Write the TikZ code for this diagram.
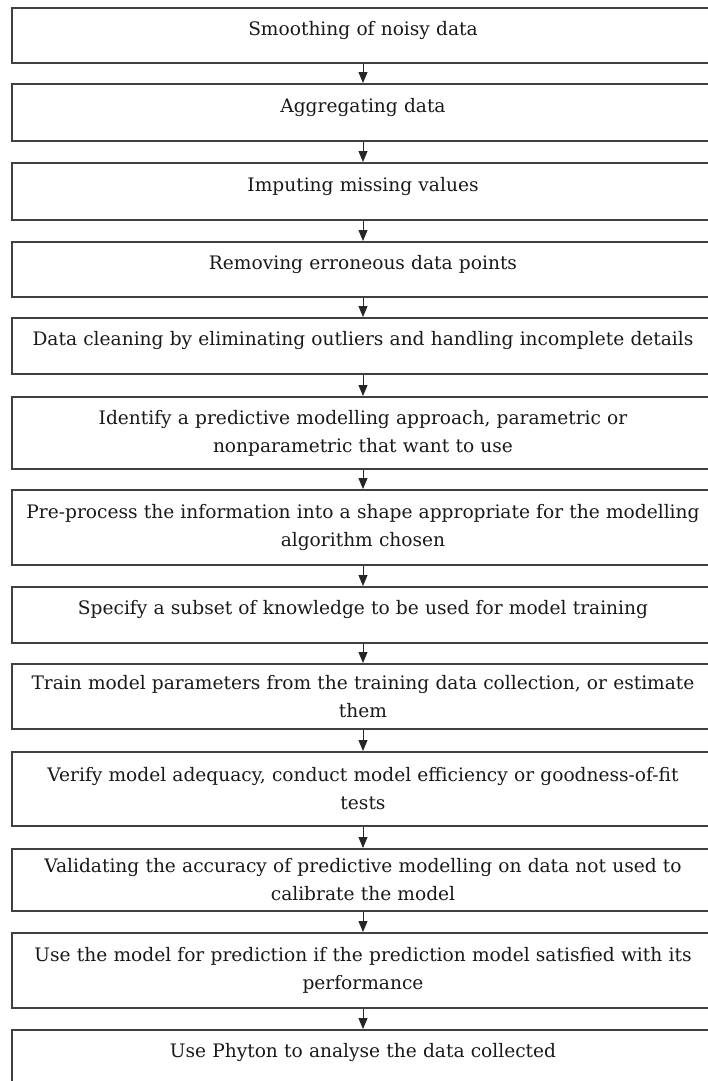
\documentclass[tikz,border=0pt]{standalone}
\usepackage{fontspec}
\setmainfont{DejaVu Serif}
\usetikzlibrary{arrows.meta}

\tikzset{
	stepbox/.style={draw=black!75, line width=1.8pt, anchor=north, minimum width=702pt,
		text width=695pt, align=center, inner sep=0pt, text=black!90, font=\fontsize{18.6}{28}\selectfont},
	oneline/.style={stepbox, text depth=14pt},
}

\begin{document}
\begin{tikzpicture}[x=1pt, y=-1pt, line width=0.9pt, draw=black!85, -{Triangle[width=9pt,length=11pt]}]
	\useasboundingbox (0,0) rectangle (708,1081);
	\node[oneline, minimum height=55pt] (smooth) at (363,7) {Smoothing of noisy data};
	\node[oneline, minimum height=57pt] (aggregate) at (363,83) {Aggregating data};
	\node[oneline, minimum height=57pt] (impute) at (363,162) {Imputing missing values};
	\node[oneline, minimum height=55pt] (remove) at (363,241) {Removing erroneous data points};
	\node[oneline, minimum height=56pt] (clean) at (363,317) {Data cleaning by eliminating outliers and handling incomplete details};
	\node[stepbox, minimum height=72pt] (identify) at (363,396) {Identify a predictive modelling approach, parametric or\\ nonparametric that want to use};
	\node[stepbox, minimum height=75pt] (preproc) at (363,489) {Pre-process the information into a shape appropriate for the modelling\\ algorithm chosen};
	\node[oneline, minimum height=56pt] (subset) at (363,586) {Specify a subset of knowledge to be used for model training};
	\node[stepbox, minimum height=65pt] (train) at (363,663) {Train model parameters from the training data collection, or estimate\\ them};
	\node[stepbox, minimum height=74pt] (verify) at (363,751) {Verify model adequacy, conduct model efficiency or goodness-of-fit\\ tests};
	\node[stepbox, minimum height=62pt] (validate) at (363,848) {Validating the accuracy of predictive modelling on data not used to\\ calibrate the model};
	\node[stepbox, minimum height=75pt] (predict) at (363,932) {Use the model for prediction if the prediction model satisfied with its\\ performance};
	\node[oneline, minimum height=56pt] (python) at (363,1029) {Use Phyton to analyse the data collected};
	\draw (smooth) to (aggregate);
	\draw (aggregate) to (impute);
	\draw (impute) to (remove);
	\draw (remove) to (clean);
	\draw (clean) to (identify);
	\draw (identify) to (preproc);
	\draw (preproc) to (subset);
	\draw (subset) to (train);
	\draw (train) to (verify);
	\draw (verify) to (validate);
	\draw (validate) to (predict);
	\draw (predict) to (python);
\end{tikzpicture}
\end{document}
